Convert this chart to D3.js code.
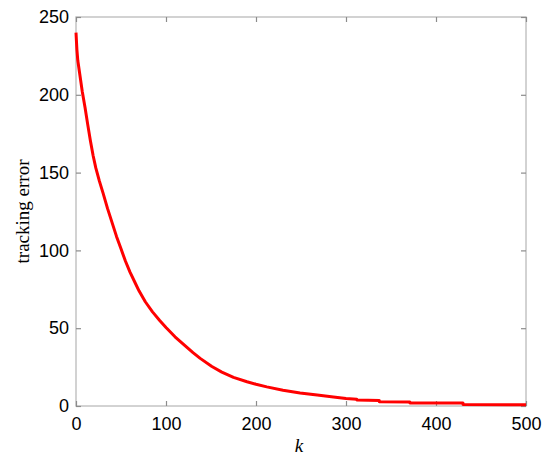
<!DOCTYPE html>
<html>
<head>
<meta charset="utf-8">
<script src="https://cdn.jsdelivr.net/npm/d3@7"></script>
<style>
  body { margin: 0; background: #fff; }
  svg { display: block; }
</style>
</head>
<body>
<div id="chart"></div>
<script>
// iteration index and tracking error
var kValues = [0, 1, 2, 4, 7, 10, 13, 16, 19, 22, 26, 30, 35, 40, 45, 50, 55, 60, 65, 70, 77, 85, 93, 100, 110, 123, 130, 138, 151, 162, 175, 190, 200, 212, 230, 249, 268, 286, 300, 312, 312, 337, 337, 371, 371, 430, 430, 500];
var errValues = [240, 229, 222, 214, 202, 192, 181, 170.5, 161, 153, 144.5, 137, 127, 118, 109, 101, 93, 86, 80, 74, 67, 60.5, 55, 50.5, 44.5, 37.8, 34.3, 30.6, 25.4, 21.8, 18.4, 15.6, 14, 12.3, 10.1, 8.4, 7, 5.8, 4.8, 4.3, 3.9, 3.6, 2.8, 2.5, 2.0, 1.9, 0.9, 0.8];
var xTicks = [0, 100, 200, 300, 400, 500];
var yTicks = [0, 50, 100, 150, 200, 250];

var width = 550, height = 461;
var margin = {top: 17, right: 24, bottom: 55, left: 76};
var w = width - margin.left - margin.right;
var h = height - margin.top - margin.bottom;

var data = kValues.map(function (k, i) { return {k: k, e: errValues[i]}; });

var svg = d3.select("#chart").append("svg")
    .attr("width", width)
    .attr("height", height);

var g = svg.append("g")
    .attr("transform", "translate(" + margin.left + "," + margin.top + ")");

var x = d3.scaleLinear().domain([0, 500]).range([0, w]);
var y = d3.scaleLinear().domain([0, 250]).range([h, 0]);

var axisColor = "#c4c4c4";
var tickColor = "#8c8c8c";
var font = "'Liberation Sans', Arial, sans-serif";

// box
g.append("rect")
    .attr("x", 0).attr("y", 0)
    .attr("width", w).attr("height", h)
    .attr("fill", "none")
    .attr("stroke", axisColor)
    .attr("stroke-width", 1.5);

// inward ticks on all four sides
function styleAxis(sel, showLabels) {
    sel.select(".domain").remove();
    sel.selectAll(".tick line").attr("stroke", tickColor).attr("stroke-width", 1.2);
    sel.selectAll(".tick text")
        .attr("fill", "#000")
        .style("font-family", font)
        .style("font-size", "18px");
    if (!showLabels) sel.selectAll(".tick text").remove();
}

g.append("g")
    .attr("transform", "translate(0," + h + ")")
    .call(d3.axisBottom(x).tickValues(xTicks).tickSizeInner(-5).tickSizeOuter(0).tickPadding(11))
    .call(styleAxis, true);

g.append("g")
    .call(d3.axisTop(x).tickValues(xTicks).tickSizeInner(-5).tickSizeOuter(0))
    .call(styleAxis, false);

g.append("g")
    .call(d3.axisLeft(y).tickValues(yTicks).tickSizeInner(-5).tickSizeOuter(0).tickPadding(7))
    .call(styleAxis, true);

g.append("g")
    .attr("transform", "translate(" + w + ",0)")
    .call(d3.axisRight(y).tickValues(yTicks).tickSizeInner(-5).tickSizeOuter(0))
    .call(styleAxis, false);

// the curve
var line = d3.line()
    .x(function (d) { return x(d.k); })
    .y(function (d) { return y(d.e); });

g.append("path")
    .datum(data)
    .attr("fill", "none")
    .attr("stroke", "#ff0000")
    .attr("stroke-width", 3)
    .attr("stroke-linejoin", "round")
    .attr("d", line);

// axis titles
svg.append("text")
    .attr("transform", "translate(29," + (margin.top + h / 2) + ") rotate(-90)")
    .attr("text-anchor", "middle")
    .style("font-family", "'Liberation Serif', 'Times New Roman', serif")
    .style("font-size", "19px")
    .text("tracking error");

svg.append("text")
    .attr("x", margin.left + w / 2 - 2)
    .attr("y", 452)
    .attr("text-anchor", "middle")
    .style("font-family", "'Liberation Serif', 'Times New Roman', serif")
    .style("font-style", "italic")
    .style("font-size", "19px")
    .text("k");
</script>
</body>
</html>
